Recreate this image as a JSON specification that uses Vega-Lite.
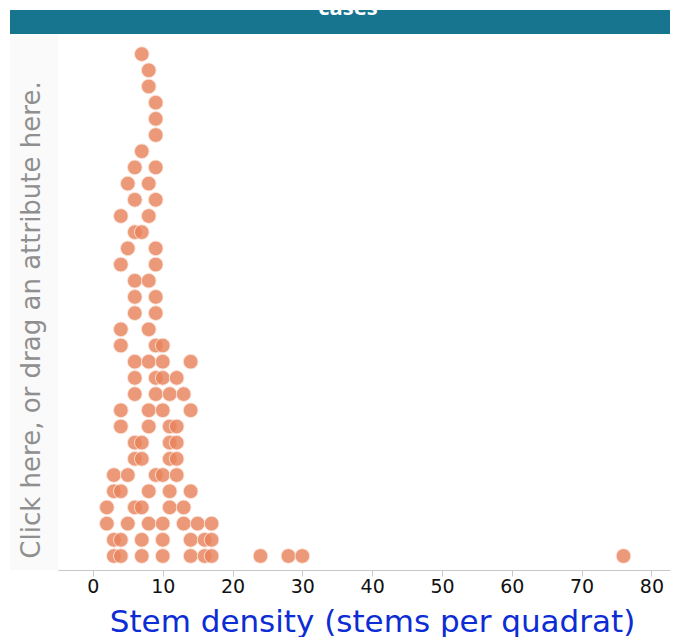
{
  "$schema": "https://vega.github.io/schema/vega-lite/v6.json",
  "background": "white",
  "padding": {"left": 10, "top": 10, "right": 4, "bottom": 0},
  "spacing": 0,
  "bounds": "flush",
  "config": {"view": {"stroke": null}, "font": "Open Sans"},
  "datasets": {
    "cases": [
      {"id": 1, "v": 3}, {"id": 2, "v": 4}, {"id": 3, "v": 7}, {"id": 4, "v": 10}, {"id": 5, "v": 14}, {"id": 6, "v": 16}, {"id": 7, "v": 17}, {"id": 8, "v": 24}, {"id": 9, "v": 28}, {"id": 10, "v": 30}, {"id": 11, "v": 76},
      {"id": 12, "v": 3}, {"id": 13, "v": 4}, {"id": 14, "v": 7}, {"id": 15, "v": 10}, {"id": 16, "v": 14}, {"id": 17, "v": 16}, {"id": 18, "v": 17},
      {"id": 19, "v": 2}, {"id": 20, "v": 5}, {"id": 21, "v": 8}, {"id": 22, "v": 10}, {"id": 23, "v": 13}, {"id": 24, "v": 15}, {"id": 25, "v": 17},
      {"id": 26, "v": 2}, {"id": 27, "v": 6}, {"id": 28, "v": 7}, {"id": 29, "v": 11}, {"id": 30, "v": 13},
      {"id": 31, "v": 3}, {"id": 32, "v": 4}, {"id": 33, "v": 8}, {"id": 34, "v": 11}, {"id": 35, "v": 14},
      {"id": 36, "v": 3}, {"id": 37, "v": 5}, {"id": 38, "v": 9}, {"id": 39, "v": 10}, {"id": 40, "v": 12},
      {"id": 41, "v": 6}, {"id": 42, "v": 7}, {"id": 43, "v": 11}, {"id": 44, "v": 12},
      {"id": 45, "v": 6}, {"id": 46, "v": 7}, {"id": 47, "v": 11}, {"id": 48, "v": 12},
      {"id": 49, "v": 4}, {"id": 50, "v": 8}, {"id": 51, "v": 11}, {"id": 52, "v": 12},
      {"id": 53, "v": 4}, {"id": 54, "v": 8}, {"id": 55, "v": 10}, {"id": 56, "v": 14},
      {"id": 57, "v": 6}, {"id": 58, "v": 9}, {"id": 59, "v": 11}, {"id": 60, "v": 13},
      {"id": 61, "v": 6}, {"id": 62, "v": 9}, {"id": 63, "v": 10}, {"id": 64, "v": 12},
      {"id": 65, "v": 6}, {"id": 66, "v": 8}, {"id": 67, "v": 10}, {"id": 68, "v": 14},
      {"id": 69, "v": 4}, {"id": 70, "v": 9}, {"id": 71, "v": 10},
      {"id": 72, "v": 4}, {"id": 73, "v": 8},
      {"id": 74, "v": 6}, {"id": 75, "v": 9},
      {"id": 76, "v": 6}, {"id": 77, "v": 9},
      {"id": 78, "v": 6}, {"id": 79, "v": 8},
      {"id": 80, "v": 4}, {"id": 81, "v": 9},
      {"id": 82, "v": 5}, {"id": 83, "v": 9},
      {"id": 84, "v": 6}, {"id": 85, "v": 7},
      {"id": 86, "v": 4}, {"id": 87, "v": 8},
      {"id": 88, "v": 6}, {"id": 89, "v": 9},
      {"id": 90, "v": 5}, {"id": 91, "v": 8},
      {"id": 92, "v": 6}, {"id": 93, "v": 9},
      {"id": 94, "v": 7}, {"id": 95, "v": 9}, {"id": 96, "v": 9}, {"id": 97, "v": 9}, {"id": 98, "v": 8}, {"id": 99, "v": 8}, {"id": 100, "v": 7}
    ]
  },
  "vconcat": [
    {
      "width": 660,
      "height": 24,
      "view": {"fill": "#177590", "stroke": null},
      "data": {"values": [{"t": "cases"}]},
      "mark": {"type": "text", "color": "white", "fontSize": 22, "fontWeight": "bold", "baseline": "alphabetic", "align": "center", "dx": 8, "dy": -7, "clip": true},
      "encoding": {"text": {"field": "t", "type": "nominal"}}
    },
    {
      "spacing": 0,
      "bounds": "flush",
      "hconcat": [
        {
          "width": 48,
          "height": 536,
          "view": {"fill": "#fafafa", "stroke": null},
          "data": {"values": [{"t": "Click here, or drag an attribute here."}]},
          "mark": {"type": "text", "angle": 270, "color": "#8f8f8f", "font": "DejaVu Sans", "fontSize": 26, "baseline": "middle", "align": "center", "dx": -18, "dy": -2},
          "encoding": {"text": {"field": "t", "type": "nominal"}}
        },
        {
          "width": 612,
          "height": 536,
          "data": {"name": "cases"},
          "transform": [
            {"bin": {"step": 2.6, "anchor": 3.9}, "field": "v", "as": "bv"},
            {"window": [{"op": "row_number", "as": "rn"}], "groupby": ["bv"], "sort": [{"field": "id", "order": "ascending"}]}
          ],
          "mark": {"type": "circle", "size": 215, "fill": "#e8835c", "fillOpacity": 0.82, "stroke": "#fbe3d8", "strokeWidth": 1, "strokeOpacity": 0.9},
          "encoding": {
            "x": {
              "field": "v",
              "type": "quantitative",
              "scale": {"domain": [-5, 82.66], "nice": false, "zero": false},
              "axis": {
                "values": [0, 10, 20, 30, 40, 50, 60, 70, 80],
                "grid": false,
                "domainColor": "#c8c8c8",
                "tickColor": "#c8c8c8",
                "tickSize": 6,
                "labelFontSize": 19,
                "labelColor": "#111111",
                "labelPadding": 1,
                "labelFont": "DejaVu Sans",
                "title": "Stem density (stems per quadrat)",
                "titleFont": "DejaVu Sans",
                "titleFontSize": 31,
                "titleFontWeight": "normal",
                "titleColor": "#0c2cd4",
                "titlePadding": 11,
                "titleX": 314
              }
            },
            "y": {
              "field": "rn",
              "type": "quantitative",
              "scale": {"domain": [0.135, 33.24], "nice": false, "zero": false},
              "axis": null
            }
          }
        }
      ]
    }
  ]
}
